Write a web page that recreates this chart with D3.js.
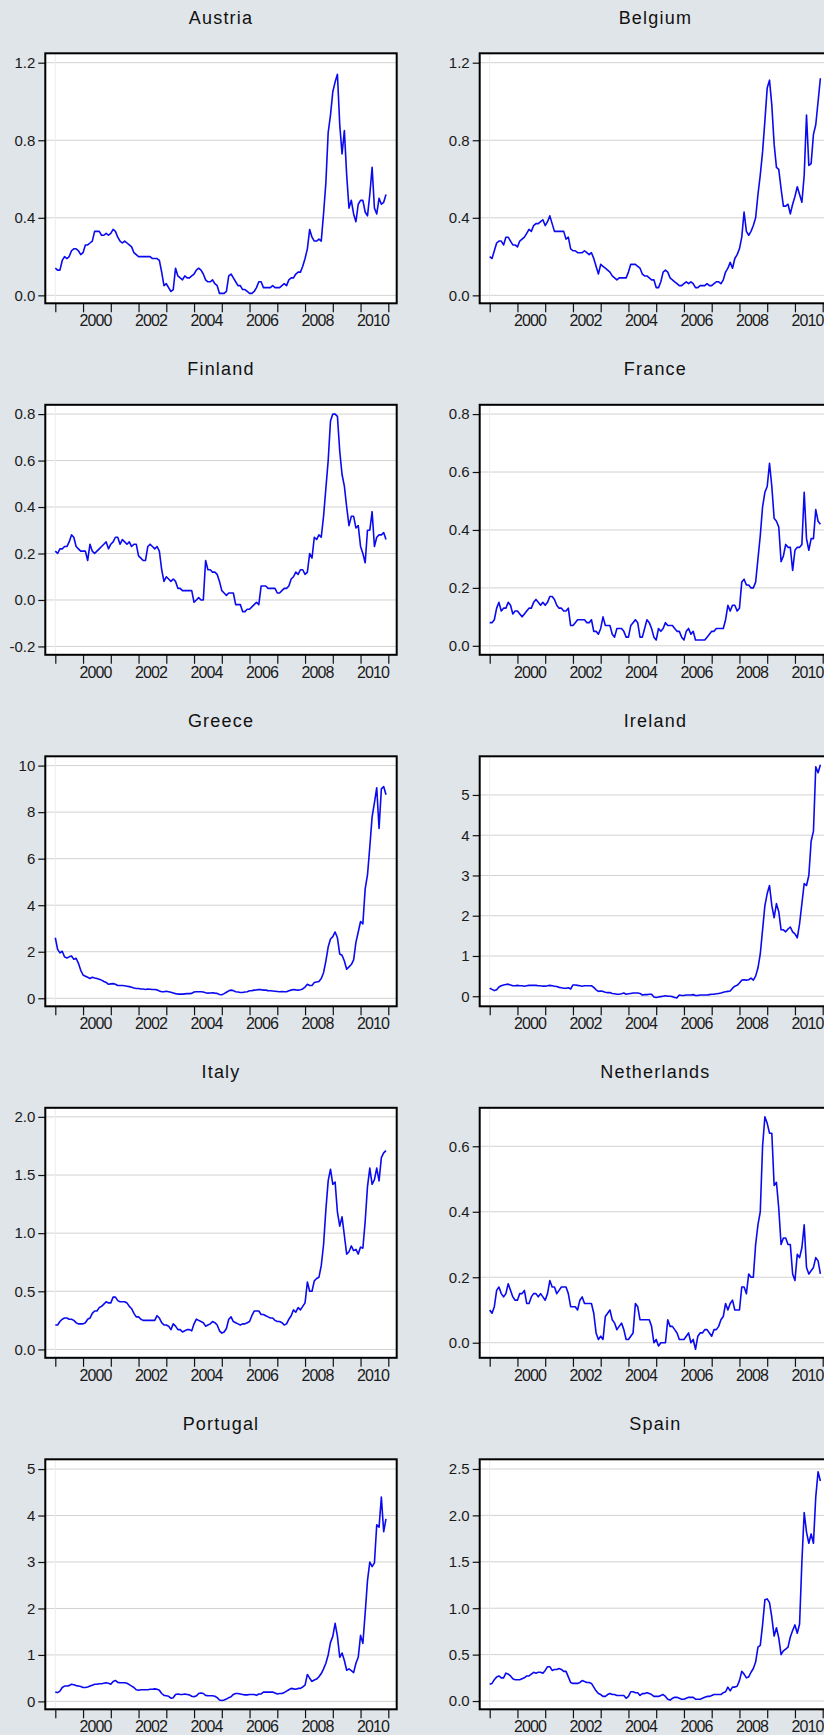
<!DOCTYPE html>
<html>
<head>
<meta charset="utf-8">
<script src="https://cdn.jsdelivr.net/npm/d3@7"></script>
<style>
  html, body { margin: 0; padding: 0; background: #e0e5e9; overflow: hidden; }
  svg { display: block; }
  .title { font-family: "Liberation Sans", Arial, sans-serif; font-size: 18px; letter-spacing: 1.2px; fill: #111; }
  .axis text { font-family: "Liberation Sans", Arial, sans-serif; font-size: 15px; fill: #1a1a1a; }
  .axis line { stroke: #111; stroke-width: 1.2; }
</style>
</head>
<body>
<svg id="chart" width="824" height="1735"></svg>
<script>
//panel names in drawing order
var countries = ['Austria', 'Belgium', 'Finland', 'France', 'Greece', 'Ireland', 'Italy', 'Netherlands', 'Portugal', 'Spain'];

//time axis ticks and labels
var yearTicks = [1999, 2000, 2001, 2002, 2003, 2004, 2005, 2006, 2007, 2008, 2009, 2010, 2011];
var yearLabels = [2000, 2002, 2004, 2006, 2008, 2010];

//monthly values, 1999M01 - 2010M12
var austria = [
    0.14,0.13,0.13,0.18,0.20,0.19,0.20,0.23,0.24,0.24,0.23,0.21,
    0.22,0.26,0.26,0.27,0.28,0.33,0.33,0.33,0.31,0.31,0.32,0.31,
    0.32,0.34,0.33,0.30,0.28,0.27,0.28,0.27,0.26,0.25,0.22,0.21,
    0.20,0.20,0.20,0.20,0.20,0.20,0.19,0.19,0.19,0.18,0.12,0.05,
    0.06,0.04,0.02,0.03,0.14,0.10,0.09,0.08,0.10,0.09,0.09,0.10,
    0.11,0.13,0.14,0.13,0.11,0.08,0.07,0.07,0.08,0.06,0.05,0.01,
    0.01,0.01,0.02,0.10,0.11,0.09,0.07,0.05,0.05,0.03,0.03,0.02,
    0.01,0.01,0.02,0.04,0.07,0.07,0.04,0.04,0.04,0.04,0.05,0.04,
    0.04,0.04,0.05,0.06,0.05,0.08,0.09,0.09,0.11,0.12,0.12,0.15,
    0.19,0.24,0.34,0.30,0.28,0.28,0.29,0.28,0.42,0.58,0.84,0.93,
    1.05,1.10,1.14,0.88,0.73,0.85,0.62,0.45,0.49,0.42,0.38,0.47,
    0.49,0.49,0.43,0.41,0.52,0.66,0.45,0.42,0.50,0.47,0.48,0.52
];
var belgium = [
    0.20,0.19,0.23,0.27,0.28,0.28,0.26,0.30,0.30,0.28,0.26,0.26,
    0.25,0.28,0.29,0.30,0.32,0.34,0.33,0.36,0.37,0.37,0.38,0.39,
    0.36,0.38,0.41,0.37,0.33,0.33,0.33,0.33,0.33,0.29,0.30,0.24,
    0.23,0.23,0.22,0.22,0.22,0.23,0.22,0.21,0.22,0.19,0.15,0.11,
    0.16,0.15,0.14,0.13,0.12,0.10,0.09,0.08,0.09,0.09,0.09,0.09,
    0.12,0.16,0.16,0.16,0.15,0.14,0.11,0.10,0.10,0.09,0.08,0.08,
    0.04,0.04,0.07,0.12,0.13,0.12,0.09,0.08,0.07,0.06,0.05,0.05,
    0.06,0.07,0.06,0.07,0.06,0.04,0.04,0.05,0.05,0.05,0.06,0.05,
    0.05,0.06,0.07,0.07,0.06,0.08,0.12,0.14,0.17,0.14,0.19,0.21,
    0.24,0.30,0.43,0.33,0.31,0.33,0.36,0.40,0.52,0.62,0.74,0.90,
    1.07,1.11,0.98,0.78,0.66,0.65,0.55,0.46,0.46,0.47,0.42,0.47,
    0.51,0.56,0.52,0.48,0.62,0.93,0.67,0.68,0.83,0.88,1.00,1.12
];
var finland = [
    0.21,0.20,0.22,0.22,0.23,0.23,0.25,0.28,0.27,0.23,0.22,0.21,
    0.21,0.21,0.17,0.24,0.21,0.20,0.21,0.22,0.23,0.24,0.25,0.22,
    0.24,0.25,0.27,0.27,0.24,0.26,0.25,0.24,0.25,0.23,0.24,0.24,
    0.19,0.18,0.17,0.17,0.23,0.24,0.23,0.22,0.23,0.21,0.13,0.08,
    0.10,0.09,0.08,0.09,0.08,0.05,0.05,0.04,0.04,0.04,0.04,0.04,
    -0.01,0.00,0.01,0.00,0.00,0.17,0.13,0.13,0.12,0.12,0.11,0.08,
    0.04,0.03,0.02,0.03,0.03,0.03,-0.02,-0.02,-0.02,-0.05,-0.05,-0.04,
    -0.04,-0.03,-0.02,-0.01,-0.02,0.06,0.06,0.06,0.05,0.05,0.05,0.05,
    0.03,0.03,0.04,0.05,0.05,0.06,0.09,0.10,0.12,0.11,0.13,0.13,
    0.11,0.12,0.20,0.18,0.27,0.26,0.28,0.27,0.36,0.48,0.60,0.77,
    0.80,0.80,0.79,0.64,0.54,0.49,0.40,0.32,0.36,0.36,0.31,0.32,
    0.23,0.20,0.16,0.30,0.30,0.38,0.23,0.27,0.28,0.28,0.29,0.26
];
var france = [
    0.08,0.08,0.09,0.13,0.15,0.12,0.13,0.13,0.15,0.14,0.11,0.12,
    0.12,0.11,0.10,0.11,0.12,0.13,0.13,0.15,0.16,0.15,0.14,0.15,
    0.14,0.15,0.17,0.17,0.16,0.14,0.13,0.13,0.12,0.12,0.13,0.07,
    0.07,0.08,0.09,0.09,0.09,0.09,0.08,0.08,0.09,0.05,0.05,0.04,
    0.06,0.10,0.07,0.07,0.07,0.04,0.03,0.06,0.06,0.06,0.05,0.03,
    0.03,0.07,0.08,0.09,0.08,0.03,0.03,0.06,0.09,0.08,0.06,0.03,
    0.02,0.06,0.05,0.06,0.08,0.07,0.07,0.07,0.06,0.05,0.05,0.03,
    0.02,0.05,0.06,0.04,0.05,0.02,0.02,0.02,0.02,0.02,0.03,0.04,
    0.05,0.05,0.06,0.06,0.06,0.06,0.09,0.14,0.12,0.14,0.14,0.12,
    0.13,0.22,0.23,0.21,0.21,0.20,0.20,0.22,0.30,0.38,0.48,0.53,
    0.55,0.63,0.55,0.44,0.43,0.41,0.29,0.31,0.35,0.34,0.34,0.26,
    0.33,0.34,0.34,0.35,0.53,0.37,0.33,0.37,0.37,0.47,0.43,0.42
];
var greece = [
    2.60,2.10,1.95,2.02,1.78,1.73,1.78,1.82,1.68,1.72,1.50,1.20,
    1.00,0.95,0.90,0.85,0.90,0.87,0.85,0.82,0.78,0.72,0.68,0.60,
    0.62,0.63,0.60,0.55,0.55,0.55,0.54,0.52,0.50,0.47,0.44,0.42,
    0.42,0.40,0.40,0.38,0.40,0.39,0.38,0.38,0.36,0.31,0.28,0.28,
    0.30,0.28,0.26,0.23,0.20,0.18,0.18,0.18,0.19,0.20,0.20,0.21,
    0.27,0.28,0.28,0.28,0.27,0.24,0.22,0.23,0.24,0.22,0.21,0.16,
    0.15,0.20,0.26,0.32,0.35,0.33,0.28,0.27,0.25,0.25,0.27,0.28,
    0.32,0.33,0.35,0.36,0.38,0.37,0.35,0.35,0.33,0.32,0.31,0.30,
    0.29,0.28,0.29,0.28,0.28,0.32,0.35,0.38,0.36,0.35,0.37,0.40,
    0.48,0.60,0.55,0.55,0.68,0.70,0.72,0.85,1.10,1.60,2.20,2.55,
    2.65,2.85,2.60,1.90,1.85,1.60,1.25,1.35,1.45,1.65,2.40,2.85,
    3.30,3.20,4.70,5.30,6.50,7.80,8.40,9.05,7.30,9.00,9.10,8.75
];
var ireland = [
    0.20,0.17,0.14,0.16,0.23,0.26,0.28,0.29,0.30,0.28,0.26,0.26,
    0.27,0.26,0.26,0.25,0.26,0.27,0.27,0.27,0.27,0.26,0.26,0.25,
    0.25,0.26,0.27,0.26,0.25,0.24,0.22,0.21,0.20,0.20,0.21,0.18,
    0.28,0.28,0.27,0.26,0.25,0.26,0.26,0.26,0.26,0.22,0.16,0.12,
    0.13,0.12,0.10,0.09,0.09,0.07,0.06,0.05,0.05,0.06,0.08,0.05,
    0.06,0.07,0.08,0.08,0.08,0.07,0.03,0.04,0.04,0.05,0.05,-0.02,
    -0.03,-0.02,-0.01,0.00,0.01,0.00,0.00,-0.01,-0.03,-0.04,0.03,0.02,
    0.02,0.03,0.03,0.03,0.04,0.02,0.02,0.03,0.03,0.03,0.03,0.04,
    0.05,0.05,0.06,0.07,0.08,0.10,0.11,0.12,0.13,0.20,0.25,0.27,
    0.33,0.40,0.41,0.40,0.41,0.45,0.40,0.50,0.70,1.05,1.65,2.25,
    2.55,2.75,2.25,1.95,2.30,2.10,1.65,1.65,1.60,1.67,1.72,1.60,
    1.55,1.45,1.80,2.30,2.80,2.75,3.00,3.85,4.10,5.70,5.55,5.75
];
var italy = [
    0.21,0.21,0.24,0.26,0.27,0.27,0.26,0.26,0.25,0.23,0.22,0.22,
    0.22,0.23,0.26,0.27,0.31,0.33,0.33,0.36,0.37,0.39,0.41,0.40,
    0.40,0.45,0.45,0.42,0.41,0.41,0.41,0.40,0.37,0.35,0.31,0.28,
    0.28,0.26,0.25,0.25,0.25,0.25,0.25,0.25,0.29,0.27,0.23,0.21,
    0.21,0.20,0.17,0.22,0.20,0.17,0.17,0.15,0.16,0.17,0.17,0.16,
    0.22,0.26,0.25,0.24,0.23,0.20,0.21,0.22,0.24,0.23,0.21,0.16,
    0.14,0.15,0.18,0.26,0.28,0.24,0.23,0.22,0.21,0.22,0.22,0.23,
    0.24,0.29,0.33,0.33,0.33,0.30,0.30,0.29,0.28,0.27,0.27,0.25,
    0.24,0.24,0.23,0.21,0.22,0.26,0.29,0.34,0.32,0.36,0.34,0.37,
    0.40,0.58,0.50,0.50,0.59,0.61,0.62,0.72,0.90,1.20,1.45,1.55,
    1.42,1.44,1.18,1.06,1.14,0.98,0.82,0.84,0.89,0.85,0.86,0.82,
    0.88,0.87,1.10,1.40,1.56,1.42,1.46,1.56,1.45,1.65,1.69,1.71
];
var netherlands = [
    0.10,0.09,0.11,0.16,0.17,0.15,0.14,0.15,0.18,0.16,0.14,0.13,
    0.13,0.15,0.15,0.16,0.12,0.12,0.14,0.15,0.15,0.14,0.15,0.14,
    0.13,0.15,0.19,0.17,0.17,0.15,0.16,0.17,0.17,0.17,0.15,0.11,
    0.11,0.11,0.10,0.13,0.14,0.12,0.12,0.12,0.12,0.09,0.03,0.01,
    0.02,0.01,0.08,0.09,0.10,0.07,0.06,0.04,0.05,0.06,0.04,0.01,
    0.01,0.02,0.03,0.12,0.11,0.07,0.07,0.07,0.07,0.07,0.05,0.00,
    0.01,-0.01,0.00,0.00,0.00,0.07,0.05,0.05,0.04,0.03,0.01,0.01,
    0.01,0.02,0.03,0.00,0.01,-0.02,0.02,0.03,0.03,0.04,0.04,0.03,
    0.02,0.04,0.04,0.05,0.07,0.08,0.12,0.10,0.12,0.13,0.10,0.10,
    0.10,0.17,0.17,0.15,0.21,0.20,0.20,0.30,0.36,0.40,0.60,0.69,
    0.67,0.64,0.64,0.48,0.49,0.41,0.30,0.32,0.32,0.30,0.30,0.21,
    0.19,0.27,0.26,0.29,0.36,0.23,0.21,0.22,0.23,0.26,0.25,0.21
];
var portugal = [
    0.20,0.19,0.22,0.30,0.33,0.33,0.34,0.37,0.36,0.34,0.33,0.32,
    0.30,0.30,0.31,0.33,0.35,0.37,0.37,0.38,0.38,0.39,0.40,0.39,
    0.37,0.43,0.45,0.41,0.40,0.40,0.40,0.39,0.36,0.33,0.30,0.25,
    0.24,0.25,0.25,0.25,0.25,0.26,0.26,0.27,0.26,0.24,0.17,0.13,
    0.12,0.11,0.07,0.08,0.15,0.16,0.15,0.15,0.16,0.15,0.14,0.11,
    0.10,0.12,0.17,0.18,0.17,0.13,0.12,0.12,0.12,0.11,0.08,0.03,
    0.02,0.03,0.05,0.08,0.10,0.15,0.17,0.17,0.16,0.15,0.14,0.14,
    0.15,0.15,0.15,0.13,0.16,0.16,0.20,0.20,0.20,0.20,0.20,0.18,
    0.16,0.17,0.17,0.19,0.22,0.25,0.28,0.27,0.26,0.28,0.28,0.31,
    0.35,0.58,0.50,0.43,0.46,0.48,0.53,0.60,0.70,0.82,1.00,1.27,
    1.40,1.68,1.40,0.95,1.04,0.88,0.67,0.70,0.66,0.62,0.82,0.95,
    1.42,1.25,1.90,2.60,3.00,2.90,2.98,3.80,3.75,4.40,3.65,3.93
];
var spain = [
    0.18,0.19,0.23,0.26,0.27,0.25,0.25,0.30,0.29,0.27,0.24,0.23,
    0.23,0.23,0.24,0.25,0.27,0.27,0.29,0.31,0.30,0.31,0.31,0.30,
    0.33,0.37,0.37,0.33,0.34,0.34,0.35,0.34,0.32,0.32,0.26,0.20,
    0.19,0.19,0.19,0.20,0.22,0.21,0.20,0.20,0.19,0.15,0.11,0.08,
    0.07,0.05,0.05,0.07,0.08,0.07,0.07,0.06,0.06,0.06,0.06,0.03,
    0.05,0.10,0.10,0.09,0.09,0.06,0.08,0.08,0.09,0.08,0.07,0.05,
    0.05,0.05,0.06,0.07,0.05,0.02,0.01,0.03,0.04,0.04,0.03,0.02,
    0.02,0.03,0.04,0.04,0.04,0.02,0.02,0.02,0.03,0.04,0.05,0.05,
    0.06,0.07,0.07,0.07,0.07,0.09,0.10,0.15,0.11,0.15,0.15,0.16,
    0.22,0.32,0.29,0.25,0.26,0.31,0.35,0.42,0.58,0.60,0.82,1.09,
    1.10,1.06,0.90,0.70,0.79,0.68,0.50,0.54,0.56,0.58,0.69,0.76,
    0.82,0.73,0.83,1.50,2.03,1.82,1.70,1.80,1.70,2.20,2.47,2.37
];

//series in panel order
var series = [austria, belgium, finland, france, greece, ireland, italy, netherlands, portugal, spain];

//value axis settings for each panel
var yTicks = [
    [0, 0.4, 0.8, 1.2], [0, 0.4, 0.8, 1.2],
    [-0.2, 0, 0.2, 0.4, 0.6, 0.8], [0, 0.2, 0.4, 0.6, 0.8],
    [0, 2, 4, 6, 8, 10], [0, 1, 2, 3, 4, 5],
    [0, 0.5, 1, 1.5, 2], [0, 0.2, 0.4, 0.6],
    [0, 1, 2, 3, 4, 5], [0, 0.5, 1, 1.5, 2, 2.5]
];
var yDomains = [
    [-0.041, 1.2485], [-0.041, 1.2485],
    [-0.236, 0.840], [-0.031, 0.832],
    [-0.345, 10.40], [-0.25, 5.96],
    [-0.072, 2.078], [-0.046, 0.7175],
    [-0.17, 5.21], [-0.089, 2.604]
];
var yDecimals = [1, 1, 1, 1, 0, 0, 1, 1, 0, 1];

(function () {
    //declare layout variables
    var svg = d3.select('#chart'),
        frameW = 351.4,
        frameH = 250,
        colX = [45.3, 479.7],
        rowTop = 53.3,
        rowStep = 351.5;

    //shared time scale, frame coordinates
    var x = d3.scaleLinear().domain([1999, 2011]).range([10, 343]);

    countries.forEach(function (name, k) {
        var left = colX[k % 2],
            top = rowTop + Math.floor(k / 2) * rowStep,
            data = series[k],
            dec = yDecimals[k];

        var y = d3.scaleLinear().domain(yDomains[k]).range([frameH, 0]);

        var g = svg.append('g')
            .attr('transform', 'translate(' + left + ',' + top + ')');

        //panel title
        g.append('text')
            .attr('class', 'title')
            .attr('x', frameW / 2)
            .attr('y', -36)
            .attr('dy', '0.35em')
            .attr('text-anchor', 'middle')
            .text(name);

        //plot background
        g.append('rect')
            .attr('width', frameW)
            .attr('height', frameH)
            .attr('fill', '#ffffff');

        //horizontal grid lines
        g.append('g')
            .selectAll('line')
            .data(yTicks[k])
            .enter()
            .append('line')
            .attr('x1', 0)
            .attr('x2', frameW)
            .attr('y1', function (d) { return y(d); })
            .attr('y2', function (d) { return y(d); })
            .attr('stroke', '#d2d2d2')
            .attr('stroke-width', 1);

        //faint line at series start
        g.append('line')
            .attr('x1', x(1999)).attr('x2', x(1999))
            .attr('y1', 0).attr('y2', frameH)
            .attr('stroke', '#ededed')
            .attr('stroke-width', 1);

        //series line
        var line = d3.line()
            .x(function (d, i) { return x(1999 + i / 12); })
            .y(function (d) { return y(d); });

        g.append('path')
            .datum(data)
            .attr('d', line)
            .attr('fill', 'none')
            .attr('stroke', '#0a0af0')
            .attr('stroke-width', 1.6)
            .attr('stroke-linejoin', 'round');

        //value axis
        var yAxis = g.append('g')
            .attr('class', 'axis')
            .call(d3.axisLeft(y)
                .tickValues(yTicks[k])
                .tickSize(7)
                .tickPadding(3)
                .tickFormat(function (d) { return d.toFixed(dec); }));
        yAxis.select('.domain').remove();

        //time axis, labels sit just right of the year tick
        var xAxis = g.append('g')
            .attr('class', 'axis')
            .attr('transform', 'translate(0,' + frameH + ')')
            .call(d3.axisBottom(x)
                .tickValues(yearTicks)
                .tickSize(9)
                .tickPadding(2.5)
                .tickFormat(function (d) { return yearLabels.indexOf(d) >= 0 ? d : ''; }));
        xAxis.select('.domain').remove();
        xAxis.selectAll('text')
            .attr('x', 12)
            .style('font-size', '16px')
            .style('letter-spacing', '-0.9px');

        //frame
        g.append('rect')
            .attr('width', frameW)
            .attr('height', frameH)
            .attr('fill', 'none')
            .attr('stroke', '#000000')
            .attr('stroke-width', 2);
    });
})();
</script>
</body>
</html>
